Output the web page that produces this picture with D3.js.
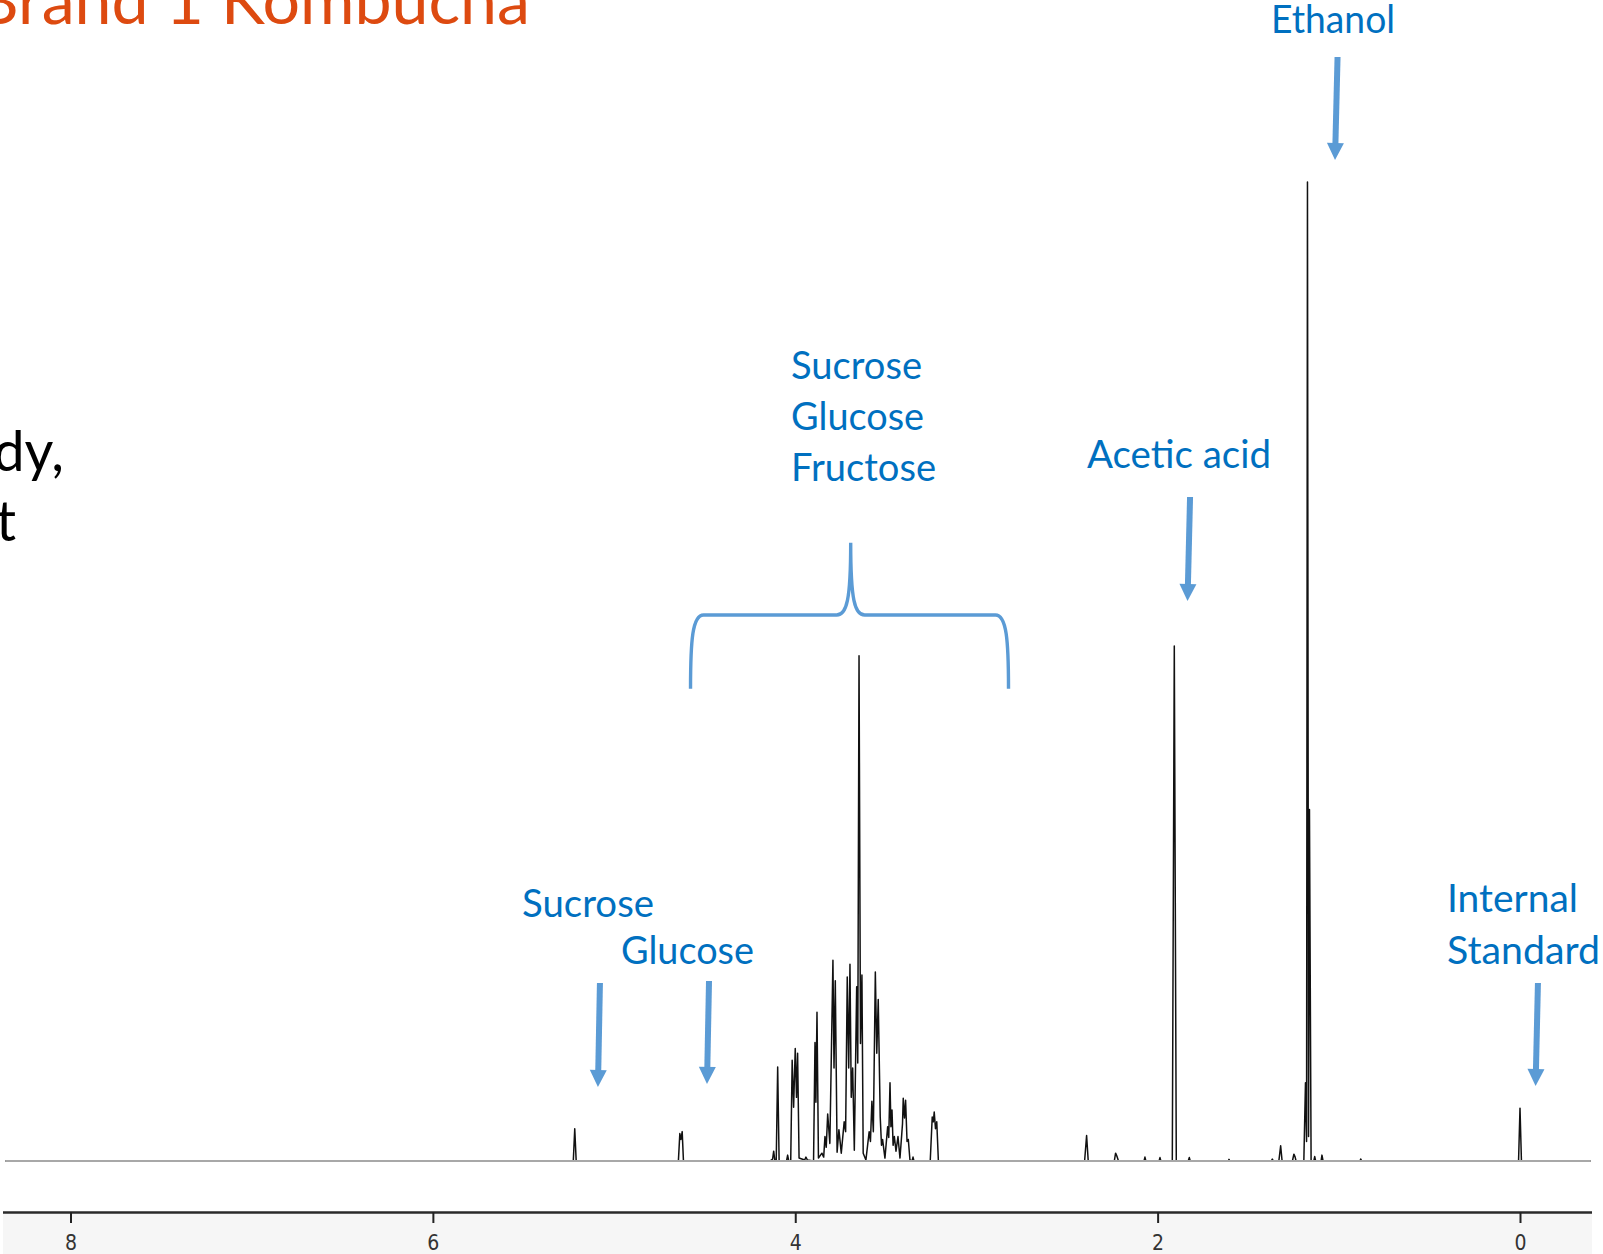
<!DOCTYPE html>
<html>
<head>
<meta charset="utf-8">
<script src="https://cdn.jsdelivr.net/npm/d3@7"></script>
<style>
  html, body { margin: 0; padding: 0; background: #fff; overflow: hidden; }
  svg { display: block; }
</style>
</head>
<body>
<svg id="chart" width="1603" height="1254"></svg>
<script>
// 1H NMR spectrum of a kombucha sample; chemical shift in ppm, intensity relative to the ethanol CH3 line (= 1000)
const tickValues = [8, 6, 4, 2, 0];

// trace vertices [ppm, intensity]
const anomericRegion = [
  [5.225, 0], [5.217, 33], [5.209, 0],
  [4.645, 0], [4.637, 28], [4.631, 22], [4.624, 30], [4.617, 0]
];

const sugarRegion = [
  [4.140, 0], [4.125, 2], [4.119, 10], [4.113, 1],
  [4.105, 0], [4.097, 96], [4.089, 0],
  [4.048, 0], [4.042, 6], [4.036, 0],
  [4.025, 0], [4.017, 103], [4.009, 55], [4.000, 115], [3.993, 65], [3.987, 110], [3.979, 3],
  [3.948, 1], [3.941, 4], [3.933, 1],
  [3.899, 0], [3.891, 121], [3.886, 60], [3.880, 152], [3.872, 3],
  [3.853, 8], [3.843, 4], [3.836, 25], [3.829, 14], [3.821, 48], [3.809, 18],
  [3.792, 205], [3.786, 95], [3.779, 184], [3.769, 9],
  [3.759, 32], [3.746, 8], [3.730, 40], [3.722, 30],
  [3.713, 188], [3.705, 95], [3.698, 201], [3.691, 65], [3.683, 95], [3.674, 11],
  [3.661, 178], [3.655, 100], [3.648, 516], [3.640, 120], [3.632, 190], [3.625, 8],
  [3.610, 1], [3.592, 30], [3.585, 20], [3.577, 61], [3.569, 30],
  [3.558, 193], [3.550, 110], [3.542, 165], [3.531, 45], [3.524, 16], [3.518, 22], [3.505, 3],
  [3.490, 35], [3.484, 24], [3.477, 80], [3.472, 35], [3.466, 52], [3.460, 16], [3.453, 25], [3.444, 10], [3.433, 25], [3.422, 3],
  [3.412, 28], [3.408, 38], [3.404, 64], [3.397, 44], [3.391, 62], [3.383, 20], [3.376, 22], [3.367, 1],
  [3.355, 0], [3.350, 4], [3.345, 0],
  [3.255, 0], [3.244, 45], [3.238, 40], [3.233, 50], [3.226, 33], [3.219, 40], [3.210, 0]
];

const aliphaticRegion = [
  [2.403, 0], [2.392, 26], [2.383, 0],
  [2.239, 0], [2.232, 8], [2.225, 5], [2.216, 0],
  [2.075, 0], [2.070, 4], [2.065, 0],
  [1.992, 0], [1.987, 3.5], [1.982, 0],
  [1.919, 0], [1.908, 526], [1.897, 0],
  [1.831, 0], [1.825, 3.5], [1.820, 0],
  [1.610, 0], [1.606, 1.7], [1.602, 0],
  [1.373, 0], [1.367, 2], [1.361, 0],
  [1.331, 0], [1.321, 15.5], [1.313, 0],
  [1.256, 0], [1.248, 7], [1.241, 4], [1.236, 0],
  [1.193, 0], [1.184, 80], [1.178, 20], [1.173, 1000], [1.167, 25], [1.162, 359], [1.153, 0],
  [1.138, 0], [1.133, 4.5], [1.128, 0],
  [1.098, 0], [1.093, 6], [1.087, 0],
  [0.883, 0], [0.879, 2], [0.873, 0]
];

const standardRegion = [
  [0.008, 0], [0.000, 54], [-0.008, 0]
];

// assignment labels
const labelTexts = [
  ["Ethanol"],
  ["Sucrose", "Glucose", "Fructose"],
  ["Acetic acid"],
  ["Sucrose"],
  ["Glucose"],
  ["Internal", "Standard"]
];

const svg = d3.select("#chart");

const x = d3.scaleLinear().domain([8, 0]).range([70.5, 1520]);
const y = d3.scaleLinear().domain([0, 1000]).range([1161, 182]);

// ---- axis band at the bottom
svg.append("rect")
  .attr("x", 3).attr("y", 1213)
  .attr("width", 1589).attr("height", 41)
  .attr("fill", "#f6f6f6");

svg.append("line")
  .attr("x1", 3).attr("x2", 1592)
  .attr("y1", 1212.5).attr("y2", 1212.5)
  .attr("stroke", "#2a2a2a").attr("stroke-width", 2.5);

const axis = d3.axisBottom(x)
  .tickValues(tickValues)
  .tickFormat(d3.format("d"))
  .tickSize(11)
  .tickSizeOuter(0)
  .tickPadding(12);

const gAxis = svg.append("g")
  .attr("transform", "translate(0,1212)")
  .call(axis);
gAxis.select(".domain").remove();
gAxis.selectAll(".tick line").attr("stroke", "#222").attr("stroke-width", 2);
gAxis.selectAll(".tick text")
  .attr("font-family", "'Liberation Sans Narrow', 'DejaVu Sans Condensed', sans-serif")
  .attr("font-stretch", "condensed")
  .attr("font-size", 21)
  .attr("fill", "#333");

// ---- spectrum trace
const trace = [[8.36, 0], ...anomericRegion, ...sugarRegion, ...aliphaticRegion, ...standardRegion, [-0.39, 0]];
const line = d3.line().x(d => x(d[0])).y(d => y(d[1]));

svg.append("path")
  .attr("d", line(trace))
  .attr("fill", "none")
  .attr("stroke", "#111")
  .attr("stroke-width", 1.5)
  .attr("stroke-linejoin", "round");

// zero-intensity baseline drawn in grey over the trace foot
svg.append("line")
  .attr("x1", x(8.36)).attr("x2", x(-0.39))
  .attr("y1", y(0)).attr("y2", y(0))
  .attr("stroke", "#a8a8a8")
  .attr("stroke-width", 2.2);

// ---- annotations
const annBlue = "#5B9BD5";
const textBlue = "#0070C0";
const labelFont = "Lato, 'Open Sans', sans-serif";

const labelLayout = [
  { ppm: 1.374, levels: [1152.2], widths: [124] },
  { ppm: 4.023, levels: [798.8, 746.2, 694.6], widths: [131, 133, 145] },
  { ppm: 2.390, levels: [707.9], widths: [184] },
  { ppm: 5.508, levels: [249.2], widths: [132] },
  { ppm: 4.962, levels: [201.2], widths: [133] },
  { ppm: 0.403, levels: [254.3, 201.2], widths: [131, 153] }
];

labelTexts.forEach((lines, i) => {
  const L = labelLayout[i];
  lines.forEach((t, j) => {
    svg.append("text")
      .attr("x", x(L.ppm))
      .attr("y", y(L.levels[j]))
      .attr("font-family", labelFont)
      .attr("font-size", 38)
      .attr("fill", textBlue)
      .attr("textLength", L.widths[j])
      .attr("lengthAdjust", "spacingAndGlyphs")
      .text(t);
  });
});

// arrows: [top ppm, top level, tip ppm, tip level]
const arrows = [
  [1.007, 1127.7, 1.021, 1022.5],
  [1.821, 678.2, 1.835, 572.0],
  [5.078, 181.8, 5.089, 75.6],
  [4.476, 183.9, 4.487, 78.7],
  [-0.099, 181.8, -0.086, 76.6]
];

const headLen = 17, headHalf = 8.5;
arrows.forEach(a => {
  const x0 = x(a[0]), y0 = y(a[1]), x1 = x(a[2]), y1 = y(a[3]);
  const dx = x1 - x0, dy = y1 - y0, len = Math.hypot(dx, dy);
  const ux = dx / len, uy = dy / len;
  const bx = x1 - ux * headLen, by = y1 - uy * headLen;
  svg.append("line")
    .attr("x1", x0).attr("y1", y0)
    .attr("x2", bx + ux * 2).attr("y2", by + uy * 2)
    .attr("stroke", annBlue).attr("stroke-width", 6);
  svg.append("path")
    .attr("d", `M${x1},${y1} L${bx - uy * headHalf},${by + ux * headHalf} L${bx + uy * headHalf},${by - ux * headHalf} Z`)
    .attr("fill", annBlue);
});

// curly brace spanning the carbohydrate region
const brace = { left: 4.578, center: 3.694, right: 2.823, top: 631.6, mid: 557.7, bottom: 482.4 };
{
  const L = x(brace.left), C = x(brace.center), R = x(brace.right);
  const yT = y(brace.top), yM = y(brace.mid), yB = y(brace.bottom);
  const d = [
    `M${L},${yB}`,
    `C${L},${yM + 25} ${L + 2},${yM} ${L + 13},${yM}`,
    `L${C - 14},${yM}`,
    `C${C - 4},${yM} ${C},${yM - 15} ${C},${yT}`,
    `C${C},${yM - 15} ${C + 4},${yM} ${C + 14},${yM}`,
    `L${R - 13},${yM}`,
    `C${R - 2},${yM} ${R},${yM + 25} ${R},${yB}`
  ].join(" ");
  svg.append("path")
    .attr("d", d)
    .attr("fill", "none")
    .attr("stroke", annBlue)
    .attr("stroke-width", 3.4);
}

// ---- slide text around the chart
const probe = svg.append("text")
  .attr("font-family", labelFont).attr("font-size", 100).text("Kombucha");
const kw = probe.node().getComputedTextLength();
probe.remove();
const titleSize = kw > 0 ? 100 * 309 / kw : 72;

svg.append("text")
  .attr("x", 530).attr("y", 24)
  .attr("text-anchor", "end")
  .attr("font-family", labelFont)
  .attr("font-size", titleSize)
  .attr("fill", "#DD4A10")
  .text("Brand 1 Kombucha");

svg.append("text")
  .attr("x", 64).attr("y", 471)
  .attr("text-anchor", "end")
  .attr("font-family", labelFont)
  .attr("font-size", 56)
  .attr("fill", "#000")
  .text("dy,");

svg.append("text")
  .attr("x", 16).attr("y", 541)
  .attr("text-anchor", "end")
  .attr("font-family", labelFont)
  .attr("font-size", 56)
  .attr("fill", "#000")
  .text("t");
</script>
</body>
</html>
